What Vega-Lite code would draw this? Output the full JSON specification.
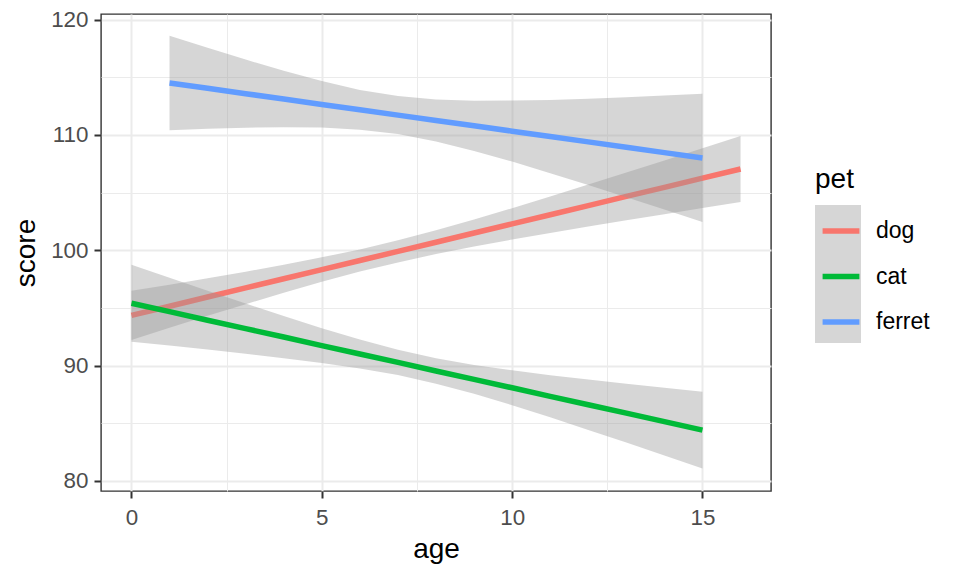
{
  "$schema": "https://vega.github.io/schema/vega-lite/v6.json",
  "width": 670,
  "height": 477,
  "autosize": {"type": "none"},
  "padding": {"left": 101, "top": 14, "right": 189, "bottom": 85},
  "background": "white",
  "config": {
    "font": "Liberation Sans",
    "view": {"stroke": "#333333", "strokeWidth": 1.4},
    "axis": {
      "labelFont": "Liberation Sans",
      "labelFontSize": 22.4,
      "labelColor": "#4D4D4D",
      "labelFlush": false,
      "titleFont": "Liberation Sans",
      "titleFontSize": 28,
      "titleFontWeight": "normal",
      "titleColor": "#000000",
      "tickColor": "#333333",
      "tickWidth": 2,
      "tickSize": 7,
      "domain": false,
      "gridColor": "#EBEBEB",
      "gridWidth": 2
    },
    "legend": {
      "labelFont": "Liberation Sans",
      "titleFont": "Liberation Sans"
    }
  },
  "datasets": {
    "smooth": [
      {"pet": "dog", "age": 0, "fit": 94.35, "lo": 92.22, "hi": 96.48},
      {"pet": "dog", "age": 1, "fit": 95.14, "lo": 93.27, "hi": 97.01},
      {"pet": "dog", "age": 2, "fit": 95.94, "lo": 94.31, "hi": 97.57},
      {"pet": "dog", "age": 3, "fit": 96.73, "lo": 95.32, "hi": 98.14},
      {"pet": "dog", "age": 4, "fit": 97.52, "lo": 96.31, "hi": 98.73},
      {"pet": "dog", "age": 5, "fit": 98.32, "lo": 97.27, "hi": 99.38},
      {"pet": "dog", "age": 6, "fit": 99.11, "lo": 98.15, "hi": 100.07},
      {"pet": "dog", "age": 7, "fit": 99.90, "lo": 98.94, "hi": 100.86},
      {"pet": "dog", "age": 8, "fit": 100.69, "lo": 99.66, "hi": 101.72},
      {"pet": "dog", "age": 9, "fit": 101.49, "lo": 100.32, "hi": 102.66},
      {"pet": "dog", "age": 10, "fit": 102.28, "lo": 100.92, "hi": 103.64},
      {"pet": "dog", "age": 11, "fit": 103.07, "lo": 101.49, "hi": 104.65},
      {"pet": "dog", "age": 12, "fit": 103.87, "lo": 102.05, "hi": 105.69},
      {"pet": "dog", "age": 13, "fit": 104.66, "lo": 102.59, "hi": 106.73},
      {"pet": "dog", "age": 14, "fit": 105.45, "lo": 103.12, "hi": 107.78},
      {"pet": "dog", "age": 15, "fit": 106.25, "lo": 103.65, "hi": 108.85},
      {"pet": "dog", "age": 16, "fit": 107.04, "lo": 104.17, "hi": 109.91},
      {"pet": "cat", "age": 0, "fit": 95.40, "lo": 92.07, "hi": 98.73},
      {"pet": "cat", "age": 1, "fit": 94.67, "lo": 91.73, "hi": 97.61},
      {"pet": "cat", "age": 2, "fit": 93.93, "lo": 91.38, "hi": 96.48},
      {"pet": "cat", "age": 3, "fit": 93.20, "lo": 91.02, "hi": 95.38},
      {"pet": "cat", "age": 4, "fit": 92.47, "lo": 90.64, "hi": 94.29},
      {"pet": "cat", "age": 5, "fit": 91.73, "lo": 90.22, "hi": 93.24},
      {"pet": "cat", "age": 6, "fit": 91.00, "lo": 89.75, "hi": 92.25},
      {"pet": "cat", "age": 7, "fit": 90.27, "lo": 89.17, "hi": 91.37},
      {"pet": "cat", "age": 8, "fit": 89.53, "lo": 88.43, "hi": 90.63},
      {"pet": "cat", "age": 9, "fit": 88.80, "lo": 87.55, "hi": 90.05},
      {"pet": "cat", "age": 10, "fit": 88.07, "lo": 86.56, "hi": 89.58},
      {"pet": "cat", "age": 11, "fit": 87.33, "lo": 85.51, "hi": 89.16},
      {"pet": "cat", "age": 12, "fit": 86.60, "lo": 84.42, "hi": 88.78},
      {"pet": "cat", "age": 13, "fit": 85.87, "lo": 83.32, "hi": 88.42},
      {"pet": "cat", "age": 14, "fit": 85.13, "lo": 82.19, "hi": 88.07},
      {"pet": "cat", "age": 15, "fit": 84.40, "lo": 81.07, "hi": 87.73},
      {"pet": "ferret", "age": 1, "fit": 114.50, "lo": 110.40, "hi": 118.60},
      {"pet": "ferret", "age": 2, "fit": 114.04, "lo": 110.52, "hi": 117.55},
      {"pet": "ferret", "age": 3, "fit": 113.57, "lo": 110.62, "hi": 116.53},
      {"pet": "ferret", "age": 4, "fit": 113.11, "lo": 110.66, "hi": 115.55},
      {"pet": "ferret", "age": 5, "fit": 112.64, "lo": 110.63, "hi": 114.66},
      {"pet": "ferret", "age": 6, "fit": 112.18, "lo": 110.45, "hi": 113.90},
      {"pet": "ferret", "age": 7, "fit": 111.71, "lo": 110.07, "hi": 113.36},
      {"pet": "ferret", "age": 8, "fit": 111.25, "lo": 109.43, "hi": 113.06},
      {"pet": "ferret", "age": 9, "fit": 110.79, "lo": 108.61, "hi": 112.96},
      {"pet": "ferret", "age": 10, "fit": 110.32, "lo": 107.68, "hi": 112.97},
      {"pet": "ferret", "age": 11, "fit": 109.86, "lo": 106.68, "hi": 113.03},
      {"pet": "ferret", "age": 12, "fit": 109.39, "lo": 105.65, "hi": 113.14},
      {"pet": "ferret", "age": 13, "fit": 108.93, "lo": 104.59, "hi": 113.26},
      {"pet": "ferret", "age": 14, "fit": 108.46, "lo": 103.52, "hi": 113.41},
      {"pet": "ferret", "age": 15, "fit": 108.00, "lo": 102.44, "hi": 113.56}
    ]
  },
  "data": {"name": "smooth"},
  "resolve": {
    "axis": {"x": "independent", "y": "independent"},
    "legend": {"fill": "independent", "stroke": "independent"}
  },
  "layer": [
    {
      "mark": {"type": "line", "opacity": 0},
      "encoding": {
        "x": {"field": "age", "type": "quantitative", "scale": {"domain": [-0.8, 16.8], "nice": false, "zero": false},
              "axis": {"orient": "top", "values": [2.5, 7.5, 12.5], "grid": true, "gridWidth": 1, "labels": false, "ticks": false, "domain": false, "title": null}},
        "y": {"field": "fit", "type": "quantitative", "scale": {"domain": [79.12, 120.48], "nice": false, "zero": false},
              "axis": {"orient": "right", "values": [85, 95, 105, 115], "grid": true, "gridWidth": 1, "labels": false, "ticks": false, "domain": false, "title": null}},
        "detail": {"field": "pet"}
      }
    },
    {
      "transform": [{"filter": "datum.pet === 'dog'"}],
      "mark": {"type": "area", "opacity": 0.4, "strokeWidth": 0},
      "encoding": {
        "x": {"field": "age", "type": "quantitative", "scale": {"domain": [-0.8, 16.8], "nice": false, "zero": false},
              "axis": {"orient": "bottom", "values": [0, 5, 10, 15], "grid": true, "gridWidth": 2, "title": "age", "labelPadding": 8, "titlePadding": 7}},
        "y": {"field": "lo", "type": "quantitative", "scale": {"domain": [79.12, 120.48], "nice": false, "zero": false},
              "axis": {"orient": "left", "values": [80, 90, 100, 110, 120], "grid": true, "gridWidth": 2, "title": "score", "labelPadding": 6, "titlePadding": 10}},
        "y2": {"field": "hi"},
        "fill": {"field": "pet", "type": "nominal",
                 "scale": {"domain": ["dog", "cat", "ferret"], "range": ["#999999", "#999999", "#999999"]},
                 "legend": {"title": "pet", "orient": "none", "legendX": 714, "legendY": 152, "padding": 0,
                            "symbolType": "square", "symbolSize": 2116, "symbolStrokeWidth": 0,
                            "rowPadding": 0, "titleFontSize": 28, "titleFontWeight": "normal", "titleColor": "#000000",
                            "titlePadding": 11, "labelExpr": "''", "labelFontSize": 22.4, "labelOffset": 9}}
      }
    },
    {
      "transform": [{"filter": "datum.pet === 'dog'"}],
      "mark": {"type": "line", "strokeWidth": 5.5},
      "encoding": {
        "x": {"field": "age", "type": "quantitative", "scale": {"domain": [-0.8, 16.8], "nice": false, "zero": false}, "axis": null},
        "y": {"field": "fit", "type": "quantitative", "scale": {"domain": [79.12, 120.48], "nice": false, "zero": false}, "axis": null},
        "stroke": {"field": "pet", "type": "nominal",
                   "scale": {"domain": ["dog", "cat", "ferret"], "range": ["#F8766D", "#00BA38", "#619CFF"]},
                   "legend": {"title": null, "orient": "none", "legendX": 714, "legendY": 191, "padding": 0,
                              "symbolType": "M-0.8,0H0.8", "symbolSize": 2116, "symbolStrokeWidth": 5.5,
                              "rowPadding": 7.5, "labelOffset": 9, "labelFontSize": 23, "labelColor": "#000000"}}
      }
    },
    {
      "transform": [{"filter": "datum.pet === 'cat'"}],
      "mark": {"type": "area", "opacity": 0.4, "strokeWidth": 0},
      "encoding": {
        "x": {"field": "age", "type": "quantitative", "scale": {"domain": [-0.8, 16.8], "nice": false, "zero": false}, "axis": null},
        "y": {"field": "lo", "type": "quantitative", "scale": {"domain": [79.12, 120.48], "nice": false, "zero": false}, "axis": null},
        "y2": {"field": "hi"},
        "fill": {"field": "pet", "type": "nominal",
                 "scale": {"domain": ["dog", "cat", "ferret"], "range": ["#999999", "#999999", "#999999"]}, "legend": null}
      }
    },
    {
      "transform": [{"filter": "datum.pet === 'cat'"}],
      "mark": {"type": "line", "strokeWidth": 5.5},
      "encoding": {
        "x": {"field": "age", "type": "quantitative", "scale": {"domain": [-0.8, 16.8], "nice": false, "zero": false}, "axis": null},
        "y": {"field": "fit", "type": "quantitative", "scale": {"domain": [79.12, 120.48], "nice": false, "zero": false}, "axis": null},
        "stroke": {"field": "pet", "type": "nominal",
                   "scale": {"domain": ["dog", "cat", "ferret"], "range": ["#F8766D", "#00BA38", "#619CFF"]}, "legend": null}
      }
    },
    {
      "transform": [{"filter": "datum.pet === 'ferret'"}],
      "mark": {"type": "area", "opacity": 0.4, "strokeWidth": 0},
      "encoding": {
        "x": {"field": "age", "type": "quantitative", "scale": {"domain": [-0.8, 16.8], "nice": false, "zero": false}, "axis": null},
        "y": {"field": "lo", "type": "quantitative", "scale": {"domain": [79.12, 120.48], "nice": false, "zero": false}, "axis": null},
        "y2": {"field": "hi"},
        "fill": {"field": "pet", "type": "nominal",
                 "scale": {"domain": ["dog", "cat", "ferret"], "range": ["#999999", "#999999", "#999999"]}, "legend": null}
      }
    },
    {
      "transform": [{"filter": "datum.pet === 'ferret'"}],
      "mark": {"type": "line", "strokeWidth": 5.5},
      "encoding": {
        "x": {"field": "age", "type": "quantitative", "scale": {"domain": [-0.8, 16.8], "nice": false, "zero": false}, "axis": null},
        "y": {"field": "fit", "type": "quantitative", "scale": {"domain": [79.12, 120.48], "nice": false, "zero": false}, "axis": null},
        "stroke": {"field": "pet", "type": "nominal",
                   "scale": {"domain": ["dog", "cat", "ferret"], "range": ["#F8766D", "#00BA38", "#619CFF"]}, "legend": null}
      }
    }
  ]
}
